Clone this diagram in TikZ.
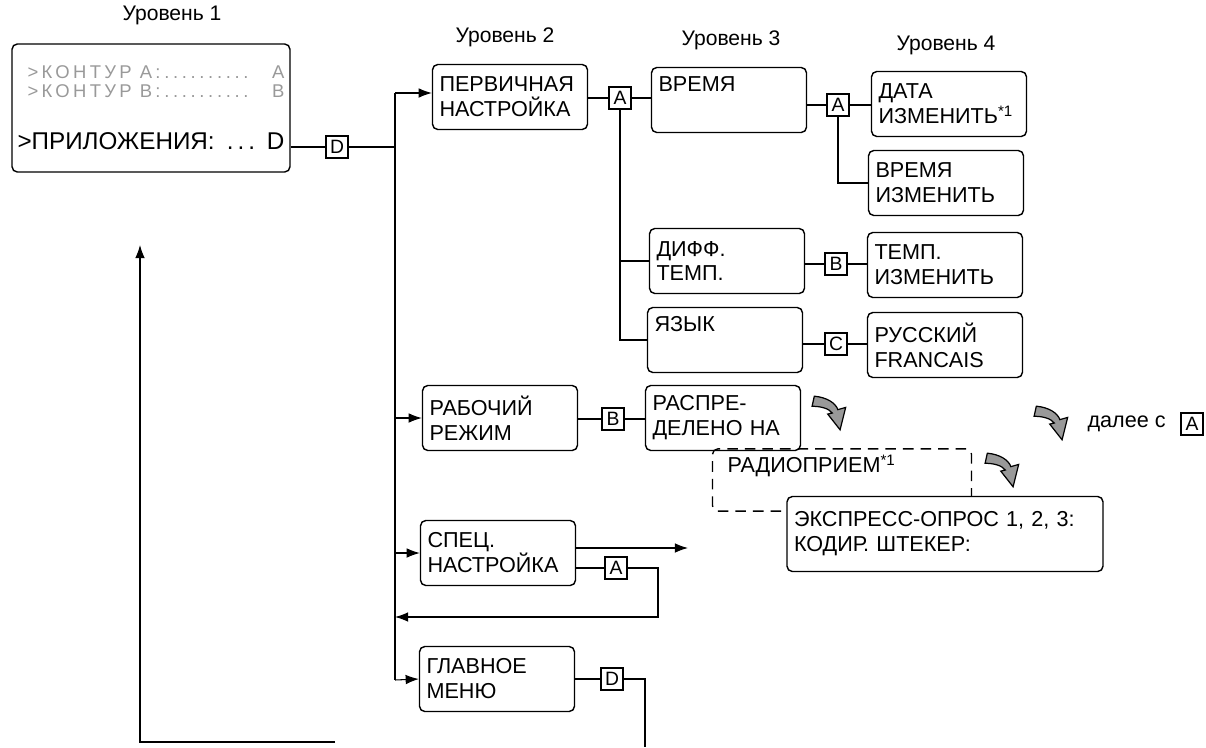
\documentclass[tikz,border=0pt]{standalone}
\usepackage{fontspec}
\setmainfont{Liberation Sans}
\newfontfamily\lcdfamily[LetterSpace=18]{Liberation Sans}
\newcommand\lcd{\lcdfamily\fontsize{10.5}{10.8}\selectfont\color{black!40}}
\newcommand\lcddots{\cleaders\hbox to 5pt{\hss.\hss}\hfill\hspace*{0.4cm}}
\usetikzlibrary{arrows.meta}

\begin{document}
\begin{tikzpicture}[
    x=0.02cm, y=-0.02cm,
    >={Latex[length=7.5pt,width=5.5pt]},
    line width=0.6pt,
    level/.style={
        font=\fontsize{12}{14}\selectfont
    },
    box/.style={
        draw,
        rounded corners=3pt,
        line width=0.8pt,
        minimum width=3.1cm,
        minimum height=1.3cm,
        text width=2.82cm,
        inner xsep=0.14cm,
        align=left,
        font=\fontsize{12.3}{14.2}\selectfont
    },
    key/.style={
        draw,
        line width=0.7pt,
        minimum size=0.44cm,
        inner sep=0pt,
        fill=white,
        font=\fontsize{11}{12}\selectfont
    },
    bendarrow/.pic={
        \filldraw[fill=black!40, line width=0.7pt, scale=1.12]
            (-14,-15) .. controls (-3,-14) and (5,-9) .. (7,-3)
            -- (14,-5) -- (9,15) -- (-2,1) -- (2,0)
            .. controls (-1,-4) and (-8,-6) .. (-16,-6) -- cycle;
    }
]
\useasboundingbox (0,0) rectangle (1206,747);

% Headings
\node[level] (h1) at (172,15) {Уровень 1};
\node[level] (h2) at (505,37) {Уровень 2};
\node[level] (h3) at (731,40) {Уровень 3};
\node[level] (h4) at (946,45) {Уровень 4};

% Level 1
\node[box, minimum width=5.56cm, minimum height=2.56cm, text width=5.34cm,
      inner xsep=0.11cm, font=\fontsize{13.8}{10.8}\selectfont] (lvl1) at (151,108) {%
    {\lcd\hspace*{0.2cm}>КОНТУР A:\lcddots A}\\
    {\lcd\hspace*{0.2cm}>КОНТУР B:\lcddots B}\\[19pt]
    >ПРИЛОЖЕНИЯ: \,.\,.\,.\hfill D};
\node[key] (d1) at (337,147) {D};

% Level 2
\node[box] (perv) at (510,97) {ПЕРВИЧНАЯ\\НАСТРОЙКА};
\node[box] (rab) at (500,418) {РАБОЧИЙ\\РЕЖИМ};
\node[box] (spec) at (498,553) {СПЕЦ.\\НАСТРОЙКА};
\node[box] (glav) at (497,679) {ГЛАВНОЕ\\МЕНЮ};

% Level 3
\node[box] (vrem) at (729,100) {ВРЕМЯ\\\strut};
\node[box] (diff) at (727,261) {ДИФФ.\\ТЕМП.};
\node[box] (yaz) at (725,340) {ЯЗЫК\\\strut};
\node[box] (rasp) at (723,418) {РАСПРЕ-\\ДЕЛЕНО НА};
\node[box, dashed, dash pattern=on 6pt off 4pt, minimum width=5.18cm,
      minimum height=1.24cm, inner xsep=0.3cm, text width=4.58cm] (radio)
      at (842,480) {РАДИОПРИЕМ\textsuperscript{*1}\\\strut};
\node[box, fill=white, minimum width=6.32cm, minimum height=1.5cm,
      text width=6.04cm] (expr) at (945,534) {ЭКСПРЕСС-ОПРОС 1, 2, 3:\\КОДИР. ШТЕКЕР:};

% Level 4
\node[box] (data) at (949,104) {ДАТА\\ИЗМЕНИТЬ\textsuperscript{*1}};
\node[box] (vizm) at (946,183) {ВРЕМЯ\\ИЗМЕНИТЬ};
\node[box] (temp) at (945,265) {ТЕМП.\\ИЗМЕНИТЬ};
\node[box] (russ) at (945,345) {РУССКИЙ\\FRANCAIS};

% Keys
\node[key] (a1) at (620,98) {A};
\node[key] (a2) at (838,105) {A};
\node[key] (b1) at (836,264) {B};
\node[key] (c1) at (836,344) {C};
\node[key] (b2) at (613,419) {B};
\node[key] (a3) at (616,568) {A};
\node[key] (d2) at (612,679) {D};
\node[key] (a4) at (1192,424) {A};
\node[anchor=east, font=\fontsize{12.3}{14}\selectfont] (dalee) at (1172,424) {далее с};

% Bus
\coordinate (bt) at (395,93);
\coordinate (bb) at (395,680);
\draw (d1 -| lvl1.east) -- (d1) -- (d1 -| bt);
\draw (bt) -- (bb);
\draw[->] (bt) -- (bt -| perv.west);
\draw[->] (bt |- rab) -- (rab.west);
\draw[->] (bt |- spec) -- (spec.west);
\draw[->] (bb) -- (glav.west);

% Connections
\draw (perv.east |- a1) -- (a1) -- (a1 -| vrem.west);
\draw (a1.south) |- (yaz.west);
\draw (a1.south |- diff.west) -- (diff.west);
\draw (vrem.east |- a2) -- (a2) -- (a2 -| data.west);
\draw (a2.south) |- (vizm.west);
\draw (diff.east |- b1) -- (b1) -- (b1 -| temp.west);
\draw (yaz.east |- c1) -- (c1) -- (c1 -| russ.west);
\draw (rab.east |- b2) -- (b2) -- (b2 -| rasp.west);

% Special settings
\coordinate (specout) at (688,548);
\coordinate (ret) at (658,617);
\draw[->] (specout -| spec.east) -- (specout);
\draw (spec.east |- a3) -- (a3);
\draw[->] (a3) -| (ret) -- (ret -| bt);

% Main menu
\coordinate (gend) at (645,747);
\draw (glav.east |- d2) -- (d2) -| (gend);

% Return
\coordinate (rt) at (140,245);
\coordinate (rc) at (140,742);
\coordinate (rs) at (335,742);
\draw[->] (rs) -- (rc) -- (rt);

% Next
\pic at (830,413) {bendarrow};
\pic at (1052,423) {bendarrow};
\pic at (1003,470) {bendarrow};

\end{tikzpicture}
\end{document}
